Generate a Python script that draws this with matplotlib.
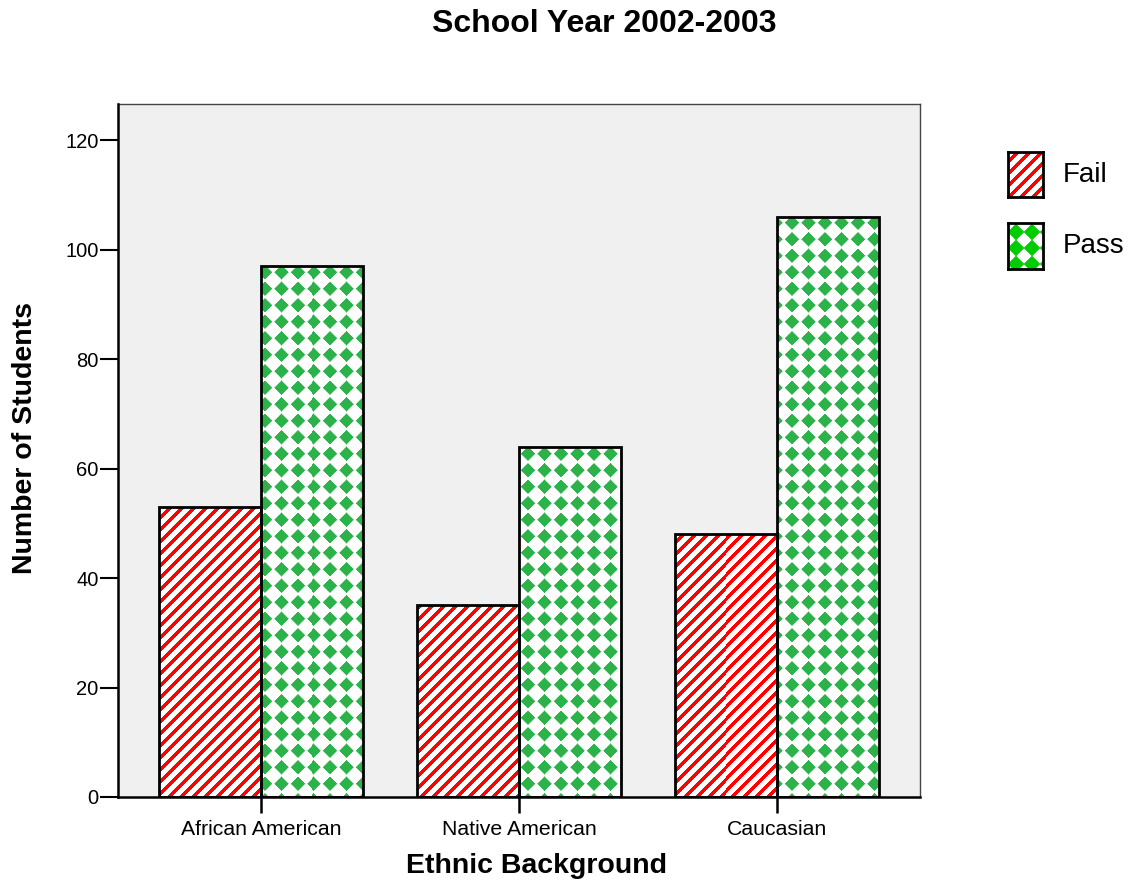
import matplotlib
matplotlib.use("Agg")
import matplotlib.pyplot as plt
import numpy as np

plt.rcParams['font.family'] = ['Liberation Sans', 'DejaVu Sans']

# data
groups = ['African American', 'Native American', 'Caucasian']
fail = [53, 35, 48]
passed = [97, 64, 106]
yticks = [0, 20, 40, 60, 80, 100, 120]

W, H = 1141, 882
fig = plt.figure(figsize=(W / 100, H / 100), dpi=100)
ax = fig.add_axes([118 / W, 85 / H, 802 / W, 693 / H])
ax.set_facecolor('#f0f0f0')
ax.set_xlim(-0.554, 2.554)
ax.set_ylim(0, 126.6)


def stripes(px, py, period=12.0, frac=0.48, color=(1.0, 0.0, 0.0)):
    # "/" diagonal red stripes on white
    t = np.mod(px + py, period) / period
    m = (np.abs(t - 0.5) < frac / 2).astype(float)
    rgb = np.ones(px.shape + (3,))
    for k in range(3):
        rgb[..., k] = 1 - m * (1 - color[k])
    return rgb


def diamonds(px, py, s=16.5, r=7.2, color=(0.17, 0.70, 0.29), xoff=None):
    if xoff is None:
        xoff = s / 2
    u = np.abs(np.mod(px + xoff, s) - s / 2)
    v = np.abs(np.mod(py, s) - s / 2)
    d = u + v
    a = np.clip(r - d + 0.5, 0, 1)
    rgb = np.ones(px.shape + (3,))
    for k in range(3):
        rgb[..., k] = 1 - a * (1 - color[k])
    return rgb


def textured_bar(xc, h, width, painter):
    bars = ax.bar([xc], [h], width=width, facecolor='none', edgecolor='black',
                  linewidth=2.0, zorder=3)
    patch = bars[0]
    (x0, y0), (x1, y1) = ax.transData.transform([(xc - width / 2, 0), (xc + width / 2, h)])
    xs = np.arange(np.floor(x0), np.ceil(x1)) + 0.5
    ys = H - (np.arange(np.floor(y0), np.ceil(y1)) + 0.5)[::-1]
    px, py = np.meshgrid(xs, ys)
    img = painter(px, py)
    im = ax.imshow(img, extent=(xc - width / 2, xc + width / 2, 0, h),
                   interpolation='nearest', aspect='auto', zorder=2)
    im.set_clip_path(patch)


bw = 0.395
x = np.arange(len(groups))
for i in range(len(groups)):
    textured_bar(x[i] - bw / 2, fail[i], bw, stripes)
    textured_bar(x[i] + bw / 2, passed[i], bw, diamonds)

ax.set_xlim(-0.554, 2.554)
ax.set_ylim(0, 126.6)
ax.set_yticks(yticks)
ax.set_xticks(x)
ax.set_xticklabels(groups)
ax.tick_params(axis='y', direction='out', length=13, width=1.5, labelsize=14.5, pad=1)
ax.tick_params(axis='x', direction='out', length=11.5, width=1.8, labelsize=15.3, pad=5)

for side in ['left', 'bottom']:
    ax.spines[side].set_color('black')
    ax.spines[side].set_linewidth(1.8)
    ax.spines[side].set_zorder(4)
for side in ['top', 'right']:
    ax.spines[side].set_color('#444444')
    ax.spines[side].set_linewidth(1.0)

fig.text(604 / W, 1 - 24 / H, 'School Year 2002-2003', ha='center', va='center',
         fontsize=23, fontweight='bold')
fig.text(25 / W, 1 - 438.5 / H, 'Number of Students', ha='center', va='center',
         rotation=90, fontsize=20.5, fontweight='bold')
fig.text(536 / W, 1 - 866 / H, 'Ethnic Background', ha='center', va='center',
         fontsize=20.5, fontweight='bold')

# legend with the same fill patterns
legend_items = [('Fail', 152, 197, lambda px, py: stripes(px, py, period=12.0)),
                ('Pass', 223, 269, lambda px, py: diamonds(px, py, s=16.0, r=8.3,
                                                           color=(0.0, 0.80, 0.0),
                                                           xoff=0.0))]
for label, top, bot, painter in legend_items:
    lax = fig.add_axes([1008 / W, 1 - bot / H, 35 / W, (bot - top) / H])
    xs = np.arange(1008, 1043) + 0.5
    ys = np.arange(top, bot) + 0.5
    px, py = np.meshgrid(xs, ys)
    lax.imshow(painter(px, py), extent=(0, 1, 0, 1), aspect='auto', interpolation='nearest')
    lax.set_xticks([])
    lax.set_yticks([])
    for sp in lax.spines.values():
        sp.set_linewidth(2.0)
    fig.text(1063 / W, 1 - (top + bot) / 2 / H, label, ha='left', va='center', fontsize=20)

fig.savefig('out.png', dpi=100)
